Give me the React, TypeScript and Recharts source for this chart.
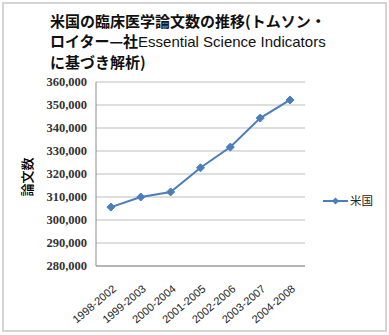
import React from 'react';
import { LineChart, Line, XAxis, YAxis, CartesianGrid } from 'recharts';

const PERIODS = ['1998-2002', '1999-2003', '2000-2004', '2001-2005', '2002-2006', '2003-2007', '2004-2008'];
const US_PAPERS = [305600, 310000, 312200, 322700, 331700, 344300, 352200];
const Y_TICKS = [280000, 290000, 300000, 310000, 320000, 330000, 340000, 350000, 360000];

const data = PERIODS.map((p, i) => ({ period: p, 米国: US_PAPERS[i] }));

const BLUE = '#4a7ebb';

const Diamond = (props: any) => {
  const { cx, cy } = props;
  if (cx == null || cy == null) return null;
  const r = 4;
  return <polygon points={`${cx},${cy - r} ${cx + r},${cy} ${cx},${cy + r} ${cx - r},${cy}`} fill={BLUE} stroke={BLUE} />;
};

const XTick = (props: any) => {
  const { x, y, payload } = props;
  const ax = x + 6;
  const ay = y + 16;
  return (
    <text x={ax} y={ay} transform={`rotate(-40 ${ax} ${ay})`} textAnchor="end"
      fontSize={11} fill="#222" fontFamily="'Liberation Sans', Arial, sans-serif">
      {payload.value}
    </text>
  );
};

const YTick = (props: any) => {
  const { x, y, payload } = props;
  return (
    <text x={x - 1} y={y + 4} textAnchor="end" fontSize={12.5} fontWeight="bold" fill="#333"
      fontFamily="'Liberation Serif', serif">
      {payload.value.toLocaleString('en-US')}
    </text>
  );
};

export default function App() {
  return (
    <div style={{ position: 'absolute', left: 0, top: 0, width: 389, height: 335, background: '#fff' }}>
      <div style={{
        position: 'absolute', left: 2, top: 2, width: 381, height: 326,
        border: '2px solid #d4d4d4',
      }} />
      <div style={{
        position: 'absolute', left: 50, top: 11, width: 320, fontSize: 15, lineHeight: '20px',
        fontFamily: "'Noto Sans CJK JP', sans-serif", fontWeight: 'bold', color: '#111', whiteSpace: 'nowrap',
      }}>
        <div>米国の臨床医学論文数の推移(トムソン・</div>
        <div>ロイター—社<span style={{ fontWeight: 'normal', fontFamily: "'Liberation Sans', Arial, sans-serif" }}>Essential Science Indicators</span></div>
        <div>に基づき解析)</div>
      </div>
      <div style={{
        position: 'absolute', left: 26, top: 177, transform: 'translate(-50%, -50%) rotate(-90deg)',
        fontSize: 13, fontFamily: "'Noto Sans CJK JP', sans-serif", fontWeight: 500, color: '#000', whiteSpace: 'nowrap',
      }}>論文数</div>
      <svg width={60} height={16} style={{ position: 'absolute', left: 320, top: 193 }}>
        <line x1={3} y1={8} x2={28} y2={8} stroke={BLUE} strokeWidth={2} />
        <polygon points="15.5,4.5 19,8 15.5,11.5 12,8" fill={BLUE} />
        <text x={30} y={12} fontSize={11.5} fill="#222" fontFamily="'Noto Sans CJK JP', sans-serif">米国</text>
      </svg>
      <LineChart width={389} height={335} data={data} margin={{ top: 82, right: 84, bottom: 0, left: 0 }}
        style={{ position: 'absolute', left: 0, top: 0 }}>
        <CartesianGrid vertical={false} stroke="#bdbdbd" />
        <XAxis dataKey="period" scale="band" tick={<XTick />} tickLine={false} axisLine={{ stroke: '#8c8c8c' }}
          interval={0} height={69} />
        <YAxis domain={[280000, 360000]} ticks={Y_TICKS} interval={0} width={96} tick={<YTick />} tickLine={false}
          axisLine={{ stroke: '#8c8c8c' }} />
        <Line dataKey="米国" stroke={BLUE} strokeWidth={2} dot={<Diamond />} activeDot={false} isAnimationActive={false} />
      </LineChart>
    </div>
  );
}
